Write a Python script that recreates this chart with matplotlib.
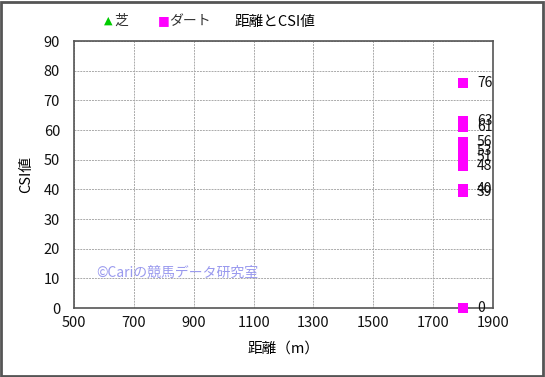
import matplotlib.pyplot as plt
import matplotlib.patches as patches

plt.rcParams['font.family'] = ['Noto Sans CJK JP', 'DejaVu Sans']

# dirt races (distance, CSI)
dirt_dist = [1800, 1800, 1800, 1800, 1800, 1800, 1800, 1800, 1800, 1800]
dirt_csi = [76, 63, 61, 56, 53, 51, 48, 40, 39, 0]
# turf races (none)
turf_dist = []
turf_csi = []

x_ticks = [500, 700, 900, 1100, 1300, 1500, 1700, 1900]
y_ticks = [0, 10, 20, 30, 40, 50, 60, 70, 80, 90]

fig = plt.figure(figsize=(5.45, 3.77), dpi=100)
ax = fig.add_axes([0.1358, 0.183, 0.769, 0.708])

ax.scatter(turf_dist, turf_csi, marker='^', s=45, color='#00cc00', edgecolors='#006600', linewidths=0.5)
ax.scatter(dirt_dist, dirt_csi, marker='s', s=45, color='#ff00ff', linewidths=0, clip_on=False, zorder=3)
for x, y in zip(dirt_dist, dirt_csi):
    ax.annotate(str(y), (x, y), xytext=(10, 0), textcoords='offset points',
                va='center', ha='left', fontsize=10, color='#111111')

ax.set_xlim(500, 1900)
ax.set_ylim(0, 90)
ax.set_xticks(x_ticks)
ax.set_yticks(y_ticks)
ax.grid(True, color='#aaaaaa', linestyle=(0, (2, 1)), linewidth=0.7)
ax.tick_params(labelsize=10.5, colors='#111111', length=0)
ax.tick_params(axis='y', pad=10)
ax.tick_params(axis='x', pad=6)
for s in ax.spines.values():
    s.set_color('#555555')
    s.set_linewidth(1.2)

ax.set_xlabel('距離（m）', fontsize=10.5, labelpad=8)
ax.set_ylabel('CSI値', fontsize=10.5, labelpad=8)

ax.text(575, 12, '©Cariの競馬データ研究室', fontsize=10, color='#9999ee', va='center', ha='left')

# title and legend
fig.text(0.505, 0.942, '距離とCSI値', fontsize=10.5, ha='center', va='center')
fig.text(0.19, 0.945, '▲', fontsize=8, color='#00cc00', ha='left', va='center', family='DejaVu Sans')
fig.text(0.21, 0.945, '芝', fontsize=10, color='#333333', ha='left', va='center')
fig.text(0.29, 0.945, '■', fontsize=9, color='#ff00ff', ha='left', va='center', family='DejaVu Sans')
fig.text(0.31, 0.945, 'ダート', fontsize=10, color='#333333', ha='left', va='center')

fig.patches.append(patches.Rectangle((0.002, 0.003), 0.995, 0.993, transform=fig.transFigure,
                                     fill=False, edgecolor='#555555', linewidth=2))

fig.savefig('out.png', dpi=100)
